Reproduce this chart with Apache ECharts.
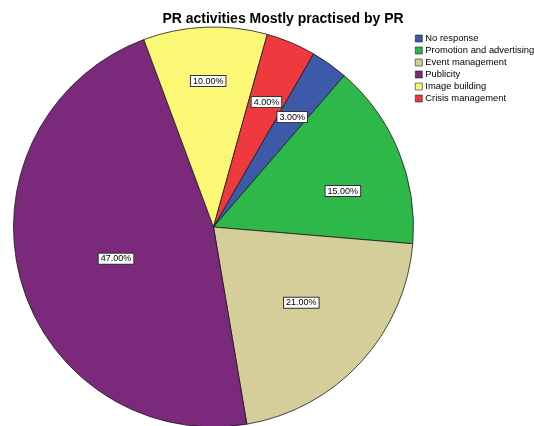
<!DOCTYPE html>
<html>
<head>
<meta charset="utf-8">
<script src="https://cdn.jsdelivr.net/npm/echarts@6/dist/echarts.min.js"></script>
<style>
    html, body { margin: 0; padding: 0; background: #fff; }
    #pie { width: 534px; height: 426px; }
</style>
</head>
<body>
<div id="pie"></div>
<script>
var categories = ['No response', 'Promotion and advertising', 'Event management', 'Publicity', 'Image building', 'Crisis management'];
var percents = [3, 15, 21, 47, 10, 4];
var sliceColors = ['#3d59a9', '#2fb84a', '#d4ce9a', '#7a297b', '#fbf875', '#ee3a3f'];
// nudges (px) of each percent box from the default inside spot, like the SPSS output
var labelOffsets = [[19, -26], [34, 3], [12, 6], [2, 5], [-1, -43], [13, -30]];

var myChart = echarts.init(document.getElementById('pie'));
var pieData = [];
for (var i = 0; i < categories.length; i++) {
    pieData.push({ name: categories[i], value: percents[i], itemStyle: { color: sliceColors[i] } });
}

var option = {
    animation: false,
    title: {
        text: 'PR activities Mostly practised by PR',
        left: 278,
        textAlign: 'center',
        top: 7,
        textStyle: { fontFamily: 'Liberation Sans', fontSize: 14, fontWeight: 'bold', color: '#000' }
    },
    legend: {
        orient: 'vertical',
        left: 410,
        top: 29,
        itemWidth: 7,
        itemHeight: 7,
        itemGap: 3,
        icon: 'rect',
        data: categories,
        textStyle: { fontFamily: 'Liberation Sans', fontSize: 9.4, color: '#000', padding: [0, 0, 0, -2], lineHeight: 9 },
        itemStyle: { borderColor: '#222', borderWidth: 0.6 }
    },
    series: [{
        type: 'pie',
        center: [213.5, 227],
        radius: 200,
        startAngle: 60,
        clockwise: true,
        data: pieData,
        itemStyle: { borderColor: '#1a1a1a', borderWidth: 0.8 },
        label: {
            position: 'inside',
            formatter: function (p) { return p.value.toFixed(2) + '%'; },
            fontFamily: 'Liberation Sans',
            fontSize: 9,
            color: '#000',
            backgroundColor: '#fff',
            borderColor: '#333',
            borderWidth: 1,
            padding: [1, 2, 0, 2]
        },
        labelLine: { show: false },
        labelLayout: function (params) {
            var off = labelOffsets[params.dataIndex];
            return { dx: off[0], dy: off[1] };
        }
    }]
};

myChart.setOption(option);
</script>
</body>
</html>
